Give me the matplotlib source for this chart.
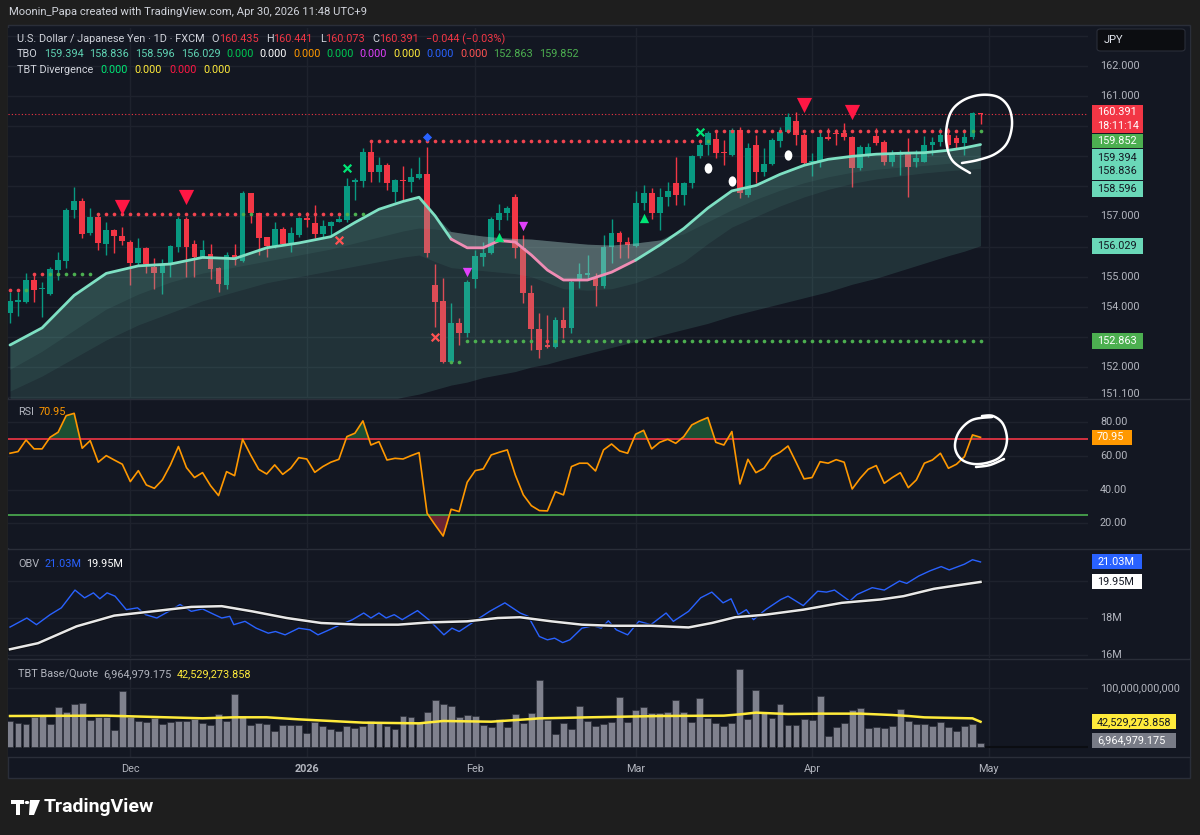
import numpy as np
import matplotlib
matplotlib.use("Agg")
import matplotlib.pyplot as plt
import matplotlib.patheffects as pe
from matplotlib.lines import Line2D
from matplotlib.patches import Rectangle, Polygon, Circle, FancyBboxPatch
from matplotlib.path import Path

plt.rcParams["font.family"] = ["Roboto", "DejaVu Sans"]

# ---------------- data ----------------
opens = [153.81, 154.17, 154.17, 154.89, 154.59, 154.43, 155.22, 155.52, 157.22, 157.52,
         156.44, 156.99, 156.09, 156.55, 156.36, 156.16, 155.47, 155.94, 155.33, 155.11,
         155.39, 156.00, 156.91, 156.09, 155.64, 155.75, 155.30, 154.72, 155.72, 155.53,
         157.77, 157.13, 156.31, 156.02, 156.58, 156.13, 156.39, 156.94, 156.80, 156.41,
         156.68, 156.83, 156.88, 158.16, 158.18, 159.13, 158.49, 158.71, 157.83, 158.21,
         158.16, 158.27, 158.41, 154.72, 154.20, 152.18, 153.47, 153.12, 154.91, 155.67,
         155.78, 156.88, 157.11, 157.64, 155.94, 154.45, 153.25, 152.73, 152.68, 153.56,
         153.28, 154.89, 155.05, 154.95, 154.69, 155.98, 156.44, 156.16, 156.02, 157.44,
         157.77, 157.13, 157.64, 158.12, 157.71, 158.10, 159.02, 159.38, 159.56, 159.14,
         159.04, 159.87, 157.72, 159.38, 158.49, 158.74, 159.52, 159.82, 160.18, 159.71,
         158.80, 158.82, 159.65, 159.79, 159.76, 159.65, 158.60, 159.04, 159.67, 159.49,
         158.82, 159.04, 159.15, 158.82, 158.82, 159.38, 159.49, 159.71, 159.60, 159.45,
         159.65, 160.435]
highs = [154.50, 154.50, 155.11, 155.11, 154.84, 155.33, 155.83, 157.27, 157.99, 157.60,
         157.27, 157.11, 156.83, 156.57, 156.66, 156.22, 156.27, 156.00, 155.61, 155.58,
         156.05, 156.99, 156.99, 156.22, 156.22, 156.09, 155.33, 155.83, 156.09, 157.86,
         157.79, 157.13, 156.33, 156.83, 156.64, 156.64, 156.99, 157.16, 157.38, 156.88,
         156.86, 157.13, 158.27, 158.27, 159.27, 159.49, 158.97, 158.79, 158.23, 158.68,
         158.60, 158.97, 159.30, 155.42, 154.95, 154.12, 153.62, 154.89, 155.89, 156.16,
         156.99, 157.42, 157.35, 157.75, 156.39, 154.72, 153.81, 153.73, 153.67, 153.98,
         154.91, 155.44, 155.72, 155.11, 156.39, 156.91, 156.53, 156.31, 157.86, 158.05,
         157.94, 157.94, 158.16, 158.99, 158.16, 159.04, 159.54, 159.85, 159.85, 159.54,
         159.93, 159.96, 159.43, 159.71, 159.27, 159.60, 159.98, 160.43, 160.48, 159.76,
         159.10, 159.82, 159.93, 159.90, 160.10, 159.67, 159.38, 159.45, 159.93, 159.54,
         159.21, 159.21, 159.60, 159.21, 159.68, 159.65, 159.93, 159.93, 159.71, 159.90,
         160.48, 160.441]
lows = [153.45, 153.71, 154.12, 154.17, 153.67, 154.40, 154.89, 155.28, 156.94, 156.27,
        156.39, 155.89, 155.72, 155.80, 156.05, 154.72, 155.39, 155.11, 154.58, 154.43,
        154.98, 155.83, 155.00, 155.00, 155.62, 154.91, 154.50, 154.58, 155.39, 155.50,
        156.80, 155.72, 155.64, 155.94, 156.05, 155.83, 156.33, 156.66, 156.27, 156.33,
        156.39, 156.82, 156.83, 157.55, 157.99, 158.16, 158.16, 157.88, 157.49, 157.55,
        157.83, 158.23, 155.67, 153.34, 152.14, 152.14, 152.73, 153.00, 154.61, 155.36,
        155.75, 156.55, 156.88, 155.61, 154.12, 152.57, 152.29, 152.62, 152.62, 152.95,
        153.12, 154.61, 154.89, 154.03, 154.61, 155.44, 155.61, 155.61, 156.00, 157.22,
        156.91, 156.55, 157.35, 157.38, 157.38, 157.94, 158.93, 159.04, 158.93, 158.71,
        159.00, 157.60, 157.66, 158.10, 158.33, 158.71, 159.32, 159.76, 159.38, 158.75,
        158.35, 158.63, 159.54, 159.38, 159.54, 157.97, 158.55, 158.99, 159.38, 158.71,
        158.68, 158.38, 157.66, 158.63, 158.80, 159.04, 159.34, 159.27, 159.23, 159.04,
        159.56, 160.073]
closes = [154.19, 154.23, 154.89, 154.56, 154.64, 155.26, 155.55, 157.22, 157.52, 156.41,
          156.99, 156.11, 156.55, 156.35, 156.20, 155.47, 155.94, 155.42, 155.11, 155.39,
          156.02, 156.91, 156.00, 155.64, 155.89, 155.27, 154.76, 155.72, 155.55, 157.79,
          157.11, 156.30, 156.02, 156.57, 156.09, 156.44, 156.94, 156.88, 156.42, 156.68,
          156.83, 156.91, 158.01, 158.21, 159.13, 158.49, 158.71, 158.12, 158.21, 158.17,
          158.30, 158.41, 155.80, 154.17, 152.18, 153.45, 153.12, 154.83, 155.69, 155.78,
          156.91, 157.11, 157.27, 155.94, 154.45, 153.25, 152.57, 152.66, 153.56, 153.28,
          154.83, 155.09, 155.11, 154.69, 156.00, 156.44, 156.16, 156.05, 157.44, 157.77,
          157.13, 157.64, 157.86, 157.71, 158.12, 159.02, 159.38, 159.79, 159.10, 159.10,
          159.87, 157.77, 159.27, 158.49, 158.74, 159.54, 159.82, 160.32, 159.71, 158.77,
          158.84, 159.65, 159.56, 159.73, 159.65, 158.60, 159.32, 159.30, 159.45, 158.82,
          159.04, 159.15, 158.66, 158.93, 159.38, 159.49, 159.71, 159.38, 159.45, 159.65,
          160.43, 160.391]

# TBO lines, read at these bar numbers
tbo_idx = [0, 4, 8, 12, 16, 20, 24, 28, 32, 36, 40, 43, 46, 49, 51, 53, 55, 57, 59, 61, 63,
           65, 67, 69, 72, 75, 78, 81, 84, 87, 90, 93, 96, 99, 102, 105, 108, 111, 114, 117,
           119, 121]
tbo_fast = [152.73, 153.30, 154.38, 155.11, 155.36, 155.42, 155.64, 155.60, 155.96, 156.12,
            156.33, 156.80, 157.24, 157.50, 157.64, 157.02, 156.25, 155.96, 155.96, 156.20,
            156.15, 155.72, 155.22, 154.89, 154.89, 155.15, 155.55, 156.05, 156.60, 157.28,
            157.85, 158.03, 158.40, 158.70, 158.90, 159.00, 159.07, 159.10, 159.12, 159.20,
            159.28, 159.39]
tbo_mid = [151.90, 152.50, 153.20, 153.90, 154.40, 154.80, 155.10, 155.30, 155.50, 155.70,
           155.90, 156.10, 156.30, 156.50, 156.60, 156.57, 156.50, 156.42, 156.35, 156.30,
           156.27, 156.25, 156.20, 156.15, 156.08, 156.05, 156.12, 156.22, 156.40, 156.80,
           157.20, 157.55, 157.85, 158.10, 158.30, 158.45, 158.55, 158.62, 158.68, 158.75,
           158.80, 158.84]
tbo_slow = [151.20, 151.70, 152.30, 152.90, 153.40, 153.80, 154.20, 154.50, 154.80, 155.00,
            155.20, 155.35, 155.50, 155.65, 155.72, 155.50, 155.30, 155.25, 155.20, 155.15,
            155.10, 155.00, 154.80, 154.60, 154.55, 154.60, 154.80, 155.10, 155.50, 156.10,
            156.65, 157.00, 157.35, 157.65, 157.90, 158.10, 158.25, 158.35, 158.45, 158.52,
            158.56, 158.60]
tbo_base = [147.60, 147.90, 148.20, 148.45, 148.75, 149.00, 149.30, 149.55, 149.85, 150.10,
            150.40, 150.60, 150.80, 151.00, 151.10, 151.25, 151.40, 151.50, 151.65, 151.75,
            151.85, 152.00, 152.10, 152.25, 152.45, 152.65, 152.85, 153.05, 153.25, 153.45,
            153.70, 153.90, 154.10, 154.30, 154.50, 154.75, 154.95, 155.20, 155.45, 155.70,
            155.85, 156.03]
pink_span = (55, 78)

# dotted levels: (first bar, last bar, price)
res_levels = [(0, 1, 154.56), (3, 4, 155.10), (11, 28, 157.08), (31, 41, 157.08),
              (45, 86, 159.51), (88, 119, 159.85), (66, 67, 152.86)]
sup_levels = [(2, 2, 154.56), (5, 10, 155.10), (29, 30, 157.08), (42, 44, 157.08),
              (87, 87, 159.51), (55, 56, 152.17), (57, 65, 152.86), (68, 121, 152.86),
              (120, 121, 159.85)]

# signal markers
big_down_idx, big_down_px = [14, 22, 99, 105], [157.33, 157.66, 160.70, 160.47]
up_tri_idx, up_tri_px = [61, 79], [156.32, 156.95]
dn_tri_idx, dn_tri_px = [57, 64], [155.16, 156.68]
x_green_idx, x_green_px = [42, 86], [158.60, 159.81]
x_red_idx, x_red_px = [41, 53], [156.22, 153.00]
drop_idx, drop_px = [87, 90, 97], [158.60, 158.18, 159.04]
diamond_idx, diamond_px = [52], [159.64]
last_price = 160.391

rsi = [61.5, 62.5, 69.4, 64.1, 64.1, 71.0, 74.0, 83.8, 85.2, 64.5,
       69.0, 56.2, 60.1, 57.5, 55.0, 44.7, 51.2, 42.7, 40.7, 45.7,
       54.6, 65.5, 53.0, 47.1, 50.0, 42.3, 36.4, 50.6, 48.2, 69.8,
       60.5, 52.0, 49.2, 54.6, 49.0, 52.6, 58.9, 58.1, 50.2, 53.6,
       56.2, 57.9, 71.4, 73.4, 80.7, 66.4, 68.4, 57.5, 58.5, 58.1,
       60.1, 61.9, 25.9, 19.0, 12.4, 28.3, 26.9, 44.3, 51.2, 52.2,
       60.5, 62.1, 63.5, 48.6, 36.8, 30.4, 27.5, 27.3, 38.7, 36.8,
       53.6, 55.6, 55.6, 51.0, 63.5, 67.0, 62.9, 61.5, 72.8, 75.1,
       64.1, 68.0, 69.8, 67.4, 71.4, 78.3, 80.7, 82.7, 68.0, 66.4,
       74.4, 43.3, 57.9, 50.0, 52.6, 59.5, 62.1, 65.8, 56.2, 46.3,
       47.1, 56.5, 55.6, 57.7, 56.2, 40.3, 46.7, 52.0, 54.2, 43.7,
       47.1, 50.0, 41.1, 45.7, 55.6, 57.5, 61.5, 52.6, 55.0, 59.5,
       72.4, 70.95]
rsi_upper, rsi_lower = 70, 25

obv_idx = [0, 2.1, 3.3, 5.0, 6.4, 8.1, 9.3, 10.4, 11.2, 12.1, 13.1, 14.5, 15.9, 16.9, 18.3,
           19.8, 21.2, 22.6, 24.0, 25.5, 26.4, 27.4, 27.9, 29.3, 30.7, 32.2, 33.1, 34.3, 36.0,
           37.4, 38.4, 39.8, 41.2, 42.7, 44.1, 45.0, 46.0, 46.9, 47.9, 48.9, 50.8, 52.2, 54.1,
           55.1, 56.0, 57.9, 59.8, 61.7, 63.6, 64.6, 66.0, 67.0, 67.9, 68.9, 69.8, 71.3, 72.7,
           73.7, 74.6, 75.6, 77.0, 78.4, 79.9, 81.8, 82.7, 84.6, 86.1, 87.5, 88.9, 89.9, 90.8,
           91.8, 92.7, 94.2, 96.1, 97.0, 98.9, 100.7, 101.8, 102.8, 104.7, 105.6, 107.5, 109.0,
           110.9, 111.8, 113.3, 114.7, 116.1, 117.1, 119.0, 120.0, 121]
obv_val = [17.51, 18.00, 17.64, 18.18, 18.55, 19.51, 19.09, 19.36, 19.04, 19.36, 19.18, 18.45,
           18.55, 18.18, 18.00, 18.36, 18.73, 18.36, 18.49, 18.18, 18.00, 18.09, 17.64, 17.82,
           17.45, 17.18, 17.27, 17.09, 17.45, 17.36, 17.09, 17.36, 17.64, 17.91, 18.27, 18.00,
           18.27, 18.00, 18.18, 17.91, 18.40, 17.91, 17.09, 17.45, 17.27, 17.82, 18.36, 18.82,
           18.27, 18.09, 17.00, 16.82, 16.91, 16.67, 16.82, 17.45, 17.58, 17.45, 17.85, 17.36,
           17.09, 17.82, 17.64, 18.27, 17.82, 18.36, 19.09, 19.40, 18.82, 19.04, 18.18, 18.45,
           17.91, 18.45, 19.00, 19.18, 18.67, 19.45, 19.40, 19.51, 18.91, 19.27, 19.64, 19.51,
           20.00, 19.87, 20.27, 20.55, 20.78, 20.60, 20.91, 21.15, 21.03]
obv_ma_idx = [0, 3.5, 8.3, 13, 17.8, 22.6, 26.4, 30.2, 34.5, 38.8, 43.6, 48.4, 52.2, 57, 60.8,
              63.6, 67.5, 71.3, 75.1, 79.9, 84.6, 87.5, 90.4, 94.2, 98.9, 103.7, 108.5, 111.4,
              115.2, 118, 121]
obv_ma_val = [16.31, 16.64, 17.55, 18.13, 18.36, 18.60, 18.64, 18.36, 18.00, 17.73, 17.64,
              17.64, 17.76, 17.82, 18.00, 18.04, 17.82, 17.64, 17.58, 17.58, 17.49, 17.73,
              18.04, 18.18, 18.45, 18.82, 19.00, 19.18, 19.58, 19.76, 19.95]

volume = [44.4, 41.0, 38.1, 51.2, 54.0, 38.7, 67.1, 58.6, 72.8, 73.9,
          45.5, 51.2, 51.2, 28.5, 94.9, 51.2, 43.8, 41.5, 48.4, 38.7,
          42.7, 44.4, 43.8, 47.2, 39.8, 37.0, 55.7, 43.8, 89.3, 52.9,
          37.0, 39.8, 38.1, 26.8, 37.0, 37.0, 37.0, 23.9, 42.7, 35.9,
          30.2, 26.8, 35.9, 32.5, 35.3, 44.4, 42.7, 35.9, 30.2, 52.9,
          50.1, 42.7, 58.6, 79.6, 72.8, 69.4, 50.1, 54.0, 52.9, 37.0,
          34.1, 47.2, 33.0, 55.7, 39.8, 56.8, 113.6, 45.5, 21.6, 39.8,
          30.1, 69.3, 44.3, 35.3, 38.7, 42.6, 84.1, 42.6, 62.5, 67.1,
          56.8, 56.8, 59.7, 79.6, 58.5, 42.6, 82.4, 48.3, 40.9, 35.3,
          40.9, 131.8, 47.2, 96.6, 59.7, 48.3, 72.7, 37.0, 37.0, 47.2,
          45.5, 86.4, 18.8, 33.0, 39.8, 62.5, 65.4, 31.3, 34.1, 32.4,
          35.3, 63.7, 44.3, 38.7, 38.1, 35.3, 41.5, 34.1, 27.3, 35.3,
          38.7, 7.0]
vma_idx = [0, 12, 24, 28, 32, 36, 44, 51, 54, 60, 65, 66, 72, 81, 89, 91, 93, 95, 97, 101,
           106, 110, 112, 114, 120, 121]
vma_val = [52.3, 52.9, 48.4, 50.1, 50.1, 46.6, 41.0, 39.8, 43.8, 42.6, 47.2, 48.3, 50.0, 52.3,
           52.9, 55.1, 58.0, 56.8, 55.7, 56.3, 56.3, 54.0, 52.3, 50.0, 48.3, 42.5]

month_idx = [15, 37, 58, 78, 100, 122]
month_lbl = ["Dec", "2026", "Feb", "Mar", "Apr", "May"]

# ---------------- styling ----------------
W, H = 1200, 835
BG = "#131722"
OUTER = "#1e1e1e"
GRID = "#1e222d"
BORDER = "#2a2e39"
TXT = "#b2b5be"
UP, DN = "#089981", "#f23645"
TEAL = "#6cc4b0"
MINT = "#7ee0c3"
PINK = "#f08cb4"
LBL_TEAL = "#6ad8b8"
FS = 7.8

fig = plt.figure(figsize=(W / 100, H / 100), dpi=100)
fig.patch.set_facecolor(OUTER)


def fx(x):
    return x / W


def fy(y):
    return 1 - y / H


def px_axes(x0, y0, x1, y1):
    a = fig.add_axes([fx(x0), fy(y1), (x1 - x0) / W, (y1 - y0) / H])
    a.set_facecolor(BG)
    for s in a.spines.values():
        s.set_visible(False)
    a.set_xticks([])
    a.set_yticks([])
    return a


def ftext(x, y, s, **kw):
    kw.setdefault("fontsize", FS)
    kw.setdefault("va", "center")
    return fig.text(fx(x), fy(y), s, **kw)


renderer = fig.canvas.get_renderer()


def seq_text(x, y, parts, fs=FS):
    for s, c, gap in parts:
        t = ftext(x, y, s, color=c, fontsize=fs)
        x += t.get_window_extent(renderer).width + gap


fig.add_artist(Rectangle((fx(8), fy(778)), (1190 - 8) / W, (778 - 25) / H,
                         transform=fig.transFigure, fc=BG, ec=BORDER, lw=1, zorder=0))

XL = (-0.25, 134.4)
ax = px_axes(8, 28, 1088, 398)
ax_rsi = px_axes(8, 400, 1088, 548)
ax_obv = px_axes(8, 550, 1088, 658)
ax_vol = px_axes(8, 660, 1088, 757)
for a in (ax, ax_rsi, ax_obv, ax_vol):
    a.set_xlim(*XL)
    for m in month_idx:
        a.axvline(m, color=GRID, lw=1, zorder=0)

ax.set_ylim(150.970, 163.262)
ax_rsi.set_ylim(5.3, 93.1)
ax_obv.set_ylim(15.838, 21.676)
ax_vol.set_ylim(-17.55, 147.7)


def make_scale(panel, y0, y1):
    s = px_axes(1088, y0, 1190, y1)
    s.set_xlim(0, 102)
    s.set_ylim(panel.get_ylim())
    s.ppu = (y1 - y0) / (panel.get_ylim()[1] - panel.get_ylim()[0])
    return s


def tick_lbl(s, v, text):
    s.text(12, v, text, color=TXT, fontsize=FS, va="center", ha="left")


def box_lbl(s, v, text, fc, tc, w=51, h=15):
    s.add_patch(Rectangle((4, v - h / 2 / s.ppu), w, h / s.ppu, fc=fc, ec="none", zorder=3))
    s.text(9, v, text, color=tc, fontsize=FS, va="center", ha="left", zorder=4,
           linespacing=1.4)


# ---------------- main pane ----------------
idx = np.arange(len(opens))
o, h_, l_, c = map(np.array, (opens, highs, lows, closes))
up = c >= o
cols = np.where(up, UP, DN)
for v in range(151, 164):
    ax.axhline(v, color=GRID, lw=1, zorder=0)
ax.axhline(last_price, color=DN, lw=0.8, ls=(0, (1, 2)), zorder=1)
ax.vlines(idx, l_, h_, colors=cols, lw=1, zorder=2)
ax.bar(idx, np.maximum(np.abs(c - o), 0.03), bottom=np.minimum(o, c), width=0.72,
       color=cols, lw=0, zorder=2)

# stacked translucent bands: each layer reaches up to the top envelope, so no seams
tx = np.array(tbo_idx)
tf, tm, ts, tb = map(np.array, (tbo_fast, tbo_mid, tbo_slow, tbo_base))
top = np.maximum(tf, tm)
ax.fill_between(tx, tb, top, color=TEAL, alpha=0.16, lw=0, zorder=3)
ax.fill_between(tx, ts, top, color=TEAL, alpha=0.09, lw=0, zorder=3)
ax.fill_between(tx, tm, tf, where=tf >= tm, interpolate=True, color=TEAL, alpha=0.09,
                lw=0, zorder=3)
ax.fill_between(tx, tf, tm, where=tm > tf, interpolate=True, color="#d3d7dd", alpha=0.24,
                lw=0, zorder=3)
a0, a1 = pink_span
ax.plot(tx[tx <= a0], tf[tx <= a0], color=MINT, lw=2.0, zorder=5, solid_capstyle="round")
seg = (tx >= a0) & (tx <= a1)
ax.plot(tx[seg], tf[seg], color=PINK, lw=2.0, zorder=5, solid_capstyle="round")
ax.plot(tx[tx >= a1], tf[tx >= a1], color=MINT, lw=2.0, zorder=5, solid_capstyle="round")

for lv, col in ((res_levels, "#f0444f"), (sup_levels, "#4caf50")):
    for a, b, p in lv:
        xs = np.arange(a, b + 1)
        ax.scatter(xs, np.full(len(xs), p), s=7, color=col, lw=0, zorder=6)

ax.scatter(big_down_idx, big_down_px, marker="v", s=120, color="#ff1744", lw=0, zorder=7)
ax.scatter(up_tri_idx, up_tri_px, marker="^", s=45, color="#00e676", lw=0, zorder=7)
ax.scatter(dn_tri_idx, dn_tri_px, marker="v", s=45, color="#e040fb", lw=0, zorder=7)
ax.scatter(x_green_idx, x_green_px, marker="x", s=30, color="#00e676", lw=1.6, zorder=7)
ax.scatter(x_red_idx, x_red_px, marker="x", s=30, color="#ff5252", lw=1.6, zorder=7)
ax.scatter(diamond_idx, diamond_px, marker="D", s=22, color="#2962ff", lw=0, zorder=7)
egg = Path(Path.unit_circle().vertices * [0.75, 1.0], Path.unit_circle().codes)
ax.scatter(drop_idx, drop_px, marker=egg, s=55, color="white", lw=0, zorder=7)

sc = make_scale(ax, 28, 398)
for v, t in ((162, "162.000"), (161, "161.000"), (157, "157.000"), (155, "155.000"),
             (154, "154.000"), (152, "152.000"), (151.1, "151.100")):
    tick_lbl(sc, v, t)
# price-scale labels are stacked by the platform so they do not overlap
box_lbl(sc, 160.239, "160.391\n18:11:14", DN, "white", h=28)
box_lbl(sc, 159.508, "159.852", "#4caf50", "white", h=14)
box_lbl(sc, 158.728, "159.394\n158.836", LBL_TEAL, "#131722", h=31)
box_lbl(sc, 157.914, "158.596", LBL_TEAL, "#131722", h=16)
box_lbl(sc, 156.029, "156.029", LBL_TEAL, "#131722", h=16)
box_lbl(sc, 152.863, "152.863", "#4caf50", "white", h=16)
fig.add_artist(FancyBboxPatch((fx(1097), fy(51)), 88 / W, 22 / H, transform=fig.transFigure,
                              boxstyle="round,pad=0,rounding_size=0.003", fc="#0c0d11",
                              ec=BORDER, lw=0.8, zorder=5))
ftext(1104, 40, "JPY", color="#e0e3eb", fontsize=8, zorder=6)

ftext(9, 12, "Moonin_Papa created with TradingView.com, Apr 30, 2026 11:48 UTC+9",
      color="#d1d4dc", fontsize=8.1)
seq_text(17, 39, [("U.S. Dollar / Japanese Yen · 1D · FXCM", "#d1d4dc", 7),
                  ("O", "#d1d4dc", 0), ("160.435", DN, 7),
                  ("H", "#d1d4dc", 0), ("160.441", DN, 7),
                  ("L", "#d1d4dc", 0), ("160.073", DN, 7),
                  ("C", "#d1d4dc", 0), ("160.391", DN, 7),
                  ("\u22120.044 (\u22120.03%)", DN, 0)])
seq_text(17, 54, [("TBO", "#d1d4dc", 6), ("159.394", "#5fd3b3", 6), ("158.836", "#5fd3b3", 6),
                  ("158.596", "#5fd3b3", 6), ("156.029", "#5fd3b3", 6),
                  ("0.000", "#00c853", 6), ("0.000", "#ffffff", 6), ("0.000", "#ff9800", 6),
                  ("0.000", "#00c853", 6), ("0.000", "#e040fb", 6), ("0.000", "#ffeb3b", 6),
                  ("0.000", "#2962ff", 6), ("0.000", "#ff5252", 6),
                  ("152.863", "#4caf50", 6), ("159.852", "#4caf50", 0)])
seq_text(17, 70, [("TBT Divergence", "#d1d4dc", 7), ("0.000", "#00e676", 7),
                  ("0.000", "#ffeb3b", 7), ("0.000", "#ff1744", 7), ("0.000", "#ffeb3b", 0)])

# ---------------- RSI pane ----------------
r = np.array(rsi)
for v in (80, 60, 40, 20):
    ax_rsi.axhline(v, color=GRID, lw=1, zorder=0)
ax_rsi.fill_between(idx, rsi_upper, r, where=r > rsi_upper, interpolate=True,
                    color="#1f5a35", alpha=0.85, lw=0, zorder=1)
ax_rsi.fill_between(idx, rsi_lower, r, where=r < rsi_lower, interpolate=True,
                    color="#7a2636", alpha=0.85, lw=0, zorder=1)
ax_rsi.axhline(rsi_upper, color="#f23645", lw=1.2, zorder=2)
ax_rsi.axhline(rsi_lower, color="#4caf50", lw=1.2, zorder=2)
ax_rsi.plot(idx, r, color="#ff9800", lw=1.2, zorder=3)
sr = make_scale(ax_rsi, 400, 548)
for v in (80, 60, 40, 20):
    tick_lbl(sr, v, f"{v:.2f}")
box_lbl(sr, rsi[-1], "70.95", "#ff9800", "white", w=40)
seq_text(18, 412, [("RSI", TXT, 5), ("70.95", "#ff9800", 0)])

# ---------------- OBV pane ----------------
for v in (16, 18, 20):
    ax_obv.axhline(v, color=GRID, lw=1, zorder=0)
ax_obv.plot(obv_idx, obv_val, color="#2962ff", lw=1.0, zorder=2)
ax_obv.plot(obv_ma_idx, obv_ma_val, color="#e8e8e8", lw=1.8, zorder=3,
            path_effects=[pe.Stroke(linewidth=3, foreground="#0a0c10"), pe.Normal()])
so = make_scale(ax_obv, 550, 658)
tick_lbl(so, 18, "18M")
tick_lbl(so, 16, "16M")
box_lbl(so, 21.03, "21.03M", "#2962ff", "white", w=50)
box_lbl(so, 19.95, "19.95M", "#ffffff", "#131722", w=50)
seq_text(18, 564, [("OBV", TXT, 5), ("21.03M", "#2962ff", 5), ("19.95M", "#ffffff", 0)])

# ---------------- volume pane ----------------
ax_vol.axhline(100, color=GRID, lw=1, zorder=0)
ax_vol.axhline(0, color="#0b0d12", lw=1.5, zorder=0)
ax_vol.bar(idx, volume, width=0.86, color="#7f818d", ec="#2b2f3a", lw=0.5, zorder=2)
ax_vol.plot(vma_idx, vma_val, color="#ffeb3b", lw=1.8, zorder=3)
sv = make_scale(ax_vol, 660, 757)
tick_lbl(sv, 100, "100,000,000,000")
box_lbl(sv, vma_val[-1], "42,529,273.858", "#ffeb3b", "#131722", w=84)
box_lbl(sv, 10.5, "6,964,979.175", "#787b86", "white", w=84)
seq_text(18, 674, [("TBT Base/Quote", TXT, 5), ("6,964,979.175", TXT, 5),
                   ("42,529,273.858", "#ffeb3b", 0)])

# time axis labels
for m, t in zip(month_idx, month_lbl):
    xp = 8 + (m - XL[0]) / (XL[1] - XL[0]) * 1080
    ftext(xp, 769, t, color=TXT, ha="center", fontweight="bold" if t == "2026" else "normal")

# pane separators
for yy in (399, 549, 659, 757):
    fig.add_artist(Line2D([fx(8), fx(1190)], [fy(yy), fy(yy)], transform=fig.transFigure,
                          color=BORDER, lw=1, zorder=4))


# ---------------- hand-drawn circles ----------------
def spline(pts, n=10):
    p = np.asarray(pts, float)
    p = np.vstack([p[0], p, p[-1]])
    out = []
    for k in range(1, len(p) - 2):
        p0, p1, p2, p3 = p[k - 1], p[k], p[k + 1], p[k + 2]
        for t in np.linspace(0, 1, n, endpoint=False):
            out.append(0.5 * (2 * p1 + (-p0 + p2) * t + (2 * p0 - 5 * p1 + 4 * p2 - p3) * t ** 2
                              + (-p0 + 3 * p1 - 3 * p2 + p3) * t ** 3))
    out.append(p[-2])
    return np.array(out)


def freehand(pts):
    s = spline(pts)
    fig.add_artist(Line2D(fx(s[:, 0]), fy(s[:, 1]), transform=fig.transFigure, color="white",
                          lw=1.8, solid_capstyle="round", zorder=8))


freehand([(970, 173), (952, 160), (946, 138), (950, 114), (962, 101), (980, 95), (998, 97),
          (1009, 108), (1012, 125), (1007, 143), (995, 154), (978, 160), (962, 163)])
freehand([(992, 417), (972, 420), (959, 432), (955, 447), (961, 459), (974, 464), (990, 462),
          (1002, 455), (1007, 440), (1003, 424), (993, 416), (982, 416)])
freehand([(1004, 459), (990, 465), (976, 467)])

# ---------------- TradingView logo ----------------
fig.add_artist(Rectangle((fx(11), fy(804)), 13 / W, 4 / H, transform=fig.transFigure,
                         fc="white", ec="none"))
fig.add_artist(Rectangle((fx(16), fy(815)), 4.5 / W, 15 / H, transform=fig.transFigure,
                         fc="white", ec="none"))
fig.add_artist(Circle((fx(27), fy(802.5)), 2.3 / W, transform=fig.transFigure, fc="white",
                      ec="none"))
fig.add_artist(Polygon([(fx(30), fy(800)), (fx(40), fy(800)), (fx(34), fy(815)),
                        (fx(29), fy(815))], closed=True, transform=fig.transFigure,
                       fc="white", ec="none"))
ftext(44, 807, "TradingView", color="white", fontsize=14, fontweight="bold")

fig.savefig("out.png", dpi=100, facecolor=OUTER)
